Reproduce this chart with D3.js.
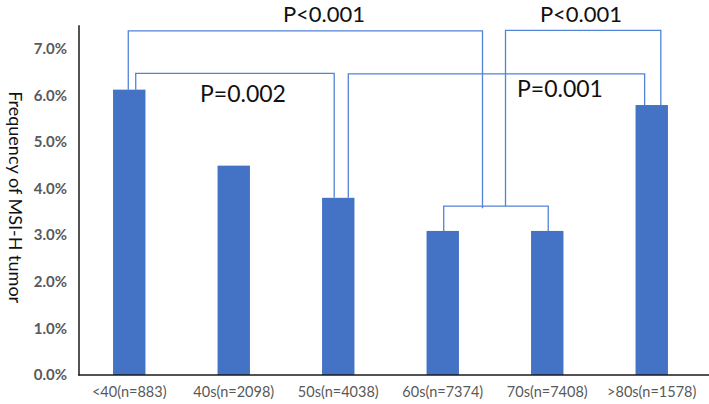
<!DOCTYPE html>
<html><head><meta charset="utf-8">
<script src="https://cdn.jsdelivr.net/npm/d3@7"></script>
<style>
html,body{margin:0;padding:0;background:#fff;}
svg{display:block;}
</style></head>
<body>
<svg id="chart" width="709" height="404"></svg>
<script>
// ---- data ----
const categories = ["<40(n=883)", "40s(n=2098)", "50s(n=4038)", "60s(n=7374)", "70s(n=7408)", ">80s(n=1578)"];
const frequency = [0.0612, 0.0449, 0.0380, 0.0309, 0.0309, 0.0579];
const yTicks = [0, 0.01, 0.02, 0.03, 0.04, 0.05, 0.06, 0.07];
const pLabels = ["P<0.001", "P<0.001", "P=0.002", "P=0.001"];
const yTitle = "Frequency of MSI-H tumor";

// ---- layout ----
const W = 709, H = 404;
const svg = d3.select("#chart");
const x = d3.scaleBand().domain(categories).range([77, 704]).paddingInner(0.69).paddingOuter(0.345);
const y = d3.scaleLinear().domain([0, 0.075]).range([375, 25.3]);
const barColor = "#4472C4";
const brColor = "#5383d6";
const font = "Lato, 'Open Sans', sans-serif";

// bars
svg.append("g").selectAll("rect").data(categories).join("rect")
  .attr("x", d => x(d))
  .attr("width", x.bandwidth())
  .attr("y", (d, i) => y(frequency[i]))
  .attr("height", (d, i) => y(0) - y(frequency[i]))
  .attr("fill", barColor);

// y axis
const yAxis = svg.append("g").attr("transform", "translate(79,0)")
  .call(d3.axisLeft(y).tickValues(yTicks).tickFormat(d3.format(".1%")).tickSize(0).tickPadding(12));
yAxis.select(".domain").remove();
yAxis.selectAll("text").attr("font-family", font).attr("font-size", 15).attr("font-weight", "bold").attr("fill", "#595959");
svg.append("line").attr("x1", 79).attr("x2", 79).attr("y1", y(0.075)).attr("y2", y(0) + 0.5)
  .attr("stroke", "#1a1a1a").attr("stroke-width", 1.5);

// x axis
const xAxis = svg.append("g").attr("transform", `translate(0,${y(0)})`)
  .call(d3.axisBottom(x).tickSize(0).tickPadding(12));
xAxis.select(".domain").remove();
xAxis.selectAll("text").attr("font-family", font).attr("font-size", 14.5).attr("fill", "#595959");
svg.append("line").attr("x1", 78.25).attr("x2", W).attr("y1", y(0)).attr("y2", y(0))
  .attr("stroke", "#1a1a1a").attr("stroke-width", 1.5);

// y title
svg.append("text").attr("transform", `translate(9,${(y(0) + y(0.075)) / 2 - 3}) rotate(90)`)
  .attr("text-anchor", "middle").attr("font-family", font).attr("font-size", 18).attr("fill", "#111")
  .text(yTitle);

// ---- significance brackets ----
const bw = x.bandwidth();
const cx = (i, off) => x(categories[i]) + bw / 2 + off * bw;
const barTop = i => y(frequency[i]);
const lvlHigh = y(0.0738), lvlMid = y(0.0647), lvlLow = y(0.0362);
const midG = (cx(3, 0) + cx(4, 0)) / 2;
const paths = [
  [[cx(3, 0.03), barTop(3)], [cx(3, 0.03), lvlLow], [cx(4, 0.03), lvlLow], [cx(4, 0.03), barTop(4)]],
  [[cx(0, -0.03), barTop(0)], [cx(0, -0.03), lvlHigh], [midG - 12.5, lvlHigh], [midG - 12.5, lvlLow + 2]],
  [[midG + 10.5, lvlLow], [midG + 10.5, lvlHigh - 0.5], [cx(5, 0.28), lvlHigh - 0.5], [cx(5, 0.28), barTop(5)]],
  [[cx(0, 0.2), barTop(0)], [cx(0, 0.2), lvlMid], [cx(2, -0.125), lvlMid], [cx(2, -0.125), barTop(2)]],
  [[cx(2, 0.31), barTop(2)], [cx(2, 0.31), lvlMid + 0.5], [cx(5, -0.22), lvlMid + 0.5], [cx(5, -0.22), barTop(5)]]
];
const line = d3.line();
svg.append("g").selectAll("path").data(paths).join("path")
  .attr("d", line).attr("fill", "none").attr("stroke", brColor).attr("stroke-width", 1.3);

const labelPos = [[324, 21.5, 22], [581, 21.5, 22], [243, 101.5, 23], [560, 96.5, 23]];
svg.append("g").selectAll("text").data(pLabels).join("text")
  .attr("x", (d, i) => labelPos[i][0]).attr("y", (d, i) => labelPos[i][1])
  .attr("font-size", (d, i) => labelPos[i][2])
  .attr("text-anchor", "middle").attr("font-family", font).attr("fill", "#111")
  .text(d => d);
</script>
</body></html>
